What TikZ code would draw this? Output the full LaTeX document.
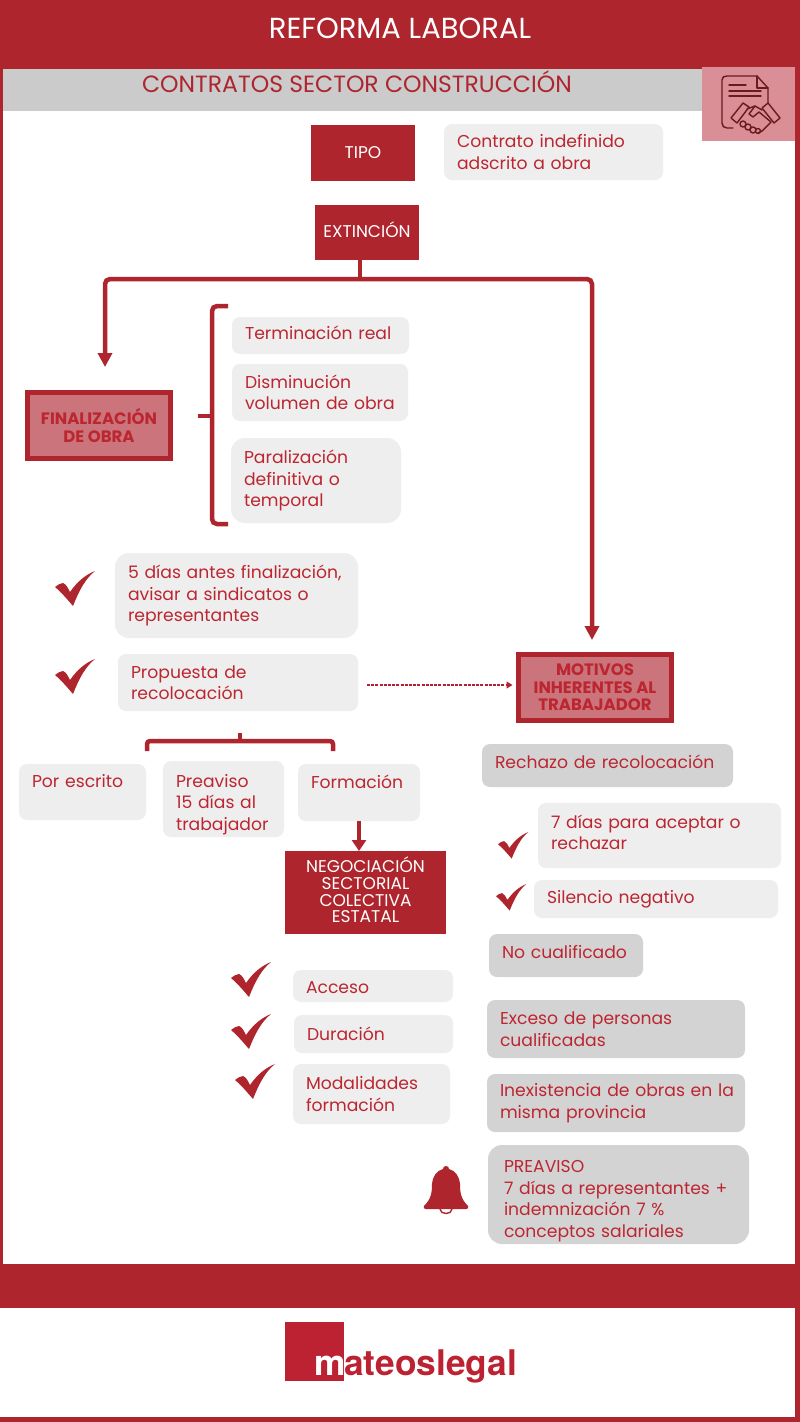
\documentclass[tikz,border=0pt]{standalone}
\usepackage{fontspec}
\setmainfont{Poppins}
\newfontfamily\logofont{TeX Gyre Heros}
\usetikzlibrary{arrows.meta,calc}
\definecolor{band}{HTML}{AE252E}
\definecolor{ink}{HTML}{BC2630}
\definecolor{lite}{HTML}{EEEEEE}
\definecolor{dark}{HTML}{D4D3D4}
\definecolor{rose}{HTML}{CB747B}
\definecolor{iconbg}{HTML}{D98F95}
\definecolor{iconink}{HTML}{6A1A20}
\definecolor{greyband}{HTML}{CBCBCB}
\definecolor{logored}{HTML}{BC2231}
\tikzset{
 boxbase/.style={anchor=north west,outer sep=0pt,inner ysep=0pt},
 litebox/.style={boxbase,fill=lite,rounded corners=8pt,text=ink,align=left,inner xsep=13pt,font=\fontsize{17.2}{21.5}\selectfont},
 darkbox/.style={litebox,fill=dark},
 bigbox/.style={rounded corners=14pt},
 redbox/.style={boxbase,fill=band,text=white,align=center,inner xsep=2pt,font=\fontsize{17}{16.7}\selectfont},
 rosebox/.style={boxbase,fill=rose,draw=band,line width=5pt,text=ink,align=center,inner xsep=2pt,font=\bfseries\fontsize{16.5}{17.5}\selectfont},
 conn/.style={draw=band,line width=4.5pt,rounded corners=5pt},
 arrowconn/.style={conn,-{Triangle[width=14pt,length=14pt]}},
 dashconn/.style={draw=band,line width=1.1pt,dash pattern=on 3pt off 1.2pt,-{Triangle[width=7pt,length=6pt]}},
 bandtext/.style={text=white,font=\fontsize{29}{34}\selectfont,inner sep=0pt},
 titletext/.style={text=band,font=\fontsize{23.5}{28}\selectfont,inner sep=0pt},
 iconline/.style={draw=iconink,line width=1.4pt,line cap=round,line join=round},
 checkmark/.pic={\fill[band] (0,16) .. controls (3,14) and (5,12) .. (8,12) .. controls (11,13) and (13,17) .. (15,21) .. controls (22,11) and (30,4) .. (40,0) .. controls (30,8) and (24,20) .. (18,35) .. controls (12,28) and (6,21) .. (0,16) -- cycle;}
}
\newcommand{\tbox}[7]{%
 \pgfmathsetmacro{\bw}{#4-#2}\pgfmathsetmacro{\bh}{#5-#3}%
 \node[#6,minimum width=\bw pt,minimum height=\bh pt,text width=\bw pt-26pt] (#1) at (#2,#3) {#7};}
\newcommand{\cbox}[7]{%
 \pgfmathsetmacro{\bw}{#4-#2}\pgfmathsetmacro{\bh}{#5-#3}%
 \node[#6,minimum width=\bw pt,minimum height=\bh pt] (#1) at (#2,#3) {#7};}
\begin{document}
\begin{tikzpicture}[x=1pt,y=-1pt]
\useasboundingbox (0,0) rectangle (800,1422);
% frame
\fill[band] (0,0) rectangle (800,1422);
\fill[white] (3,69) rectangle (795,1264);
\fill[white] (0,1308) rectangle (795,1417);
\fill[greyband] (3,69) rectangle (702,111);
\fill[band] (0,1264) rectangle (800,1308);
\node[bandtext] (head) at (400,28) {REFORMA LABORAL};
\node[titletext] (title) at (357,82) {CONTRATOS SECTOR CONSTRUCCIÓN};
% icon
\fill[iconbg] (702,67) rectangle (795,141);
\draw[iconline] (733,128) -- (727,128) .. controls (724,128) and (722,126) .. (722,123) -- (722,80) .. controls (722,77) and (724,76) .. (727,76) -- (757,76) -- (768,88) -- (768,103);
\draw[iconline] (757,76) -- (757,88) -- (768,88);
\draw[iconline] (729,85) -- (746,85) (729,91) -- (761,91) (729,96) -- (761,96);
\draw[iconline] (731,118) -- (743,103) -- (749,107) -- (737,123) -- cycle;
\draw[iconline] (768,103) -- (780,118) -- (774,123) -- (762,108) -- cycle;
\draw[iconline] (747,109) -- (755,106) -- (762,110);
\draw[iconline] (755,106) -- (749,114) -- (753,117) -- (759,112) -- (771,122) -- (762,131) -- (758,133);
\draw[iconline] (743,124) circle[radius=3pt] (748,127) circle[radius=3pt] (753,130) circle[radius=3pt] (758,131) circle[radius=2.5pt];
% nodes
\cbox{tipo}{311}{125}{415}{181}{redbox}{TIPO}
\tbox{contrato}{444}{124}{663}{180}{litebox}{Contrato indefinido\\adscrito a obra}
\cbox{ext}{315}{205}{419}{260}{redbox}{EXTINCIÓN\rule[-6pt]{0pt}{1pt}}
\cbox{fin}{27.5}{392.5}{170.5}{458.5}{rosebox}{FINALIZACIÓN\\DE OBRA}
\tbox{term}{232}{317}{409}{354}{litebox}{Terminación real\rule[-5pt]{0pt}{1pt}}
\tbox{dism}{232}{364}{408}{421}{litebox}{Disminución\\\mbox{volumen de obra}}
\tbox{para}{231}{438}{401}{523}{litebox,bigbox}{Paralización\\definitiva o\\temporal}
\tbox{cinco}{115}{553}{358}{638}{litebox,bigbox}{5 días antes finalización,\\avisar a sindicatos o\\representantes}
\tbox{prop}{118}{654}{358}{711}{litebox}{Propuesta de\\recolocación}
\cbox{mot}{518.5}{654.5}{671.5}{720.5}{rosebox}{MOTIVOS\\INHERENTES AL\\TRABAJADOR}
\tbox{esc}{19}{764}{146}{820}{litebox}{Por escrito\\\mbox{}}
\tbox{prea}{163}{761}{284}{837}{litebox}{\rule{0pt}{24pt}Preaviso\\15 días al\\trabajador}
\tbox{form}{298}{764}{420}{821}{litebox}{Formación\\\mbox{}}
\cbox{nego}{285}{851}{446}{934}{redbox}{NEGOCIACIÓN\\SECTORIAL\\COLECTIVA\\ESTATAL\rule[-5pt]{0pt}{1pt}}
\tbox{rech}{482}{744}{733}{787}{darkbox}{Rechazo de recolocación\rule[-7pt]{0pt}{1pt}}
\tbox{siete}{538}{803}{781}{868}{litebox}{7 días para aceptar o\\rechazar\rule[-6pt]{0pt}{1pt}}
\tbox{sil}{534}{880}{778}{918}{litebox}{Silencio negativo}
\tbox{nocu}{489}{934}{643}{977}{darkbox}{No cualificado\rule[-7pt]{0pt}{1pt}}
\tbox{exce}{487}{1000}{745}{1058}{darkbox}{Exceso de personas\\cualificadas}
\tbox{inex}{487}{1074}{745}{1132}{darkbox}{\mbox{Inexistencia de obras en la}\\misma provincia}
\cbox{prev}{488}{1145}{749}{1244}{darkbox,bigbox,inner xsep=16pt,text width=229pt}{\rule{0pt}{25pt}PREAVISO\\7 días a representantes +\\indemnización 7 \%\\conceptos salariales}
\tbox{acc}{293}{970}{453}{1002}{litebox}{\rule{0pt}{15pt}Acceso}
\tbox{dur}{294}{1015}{453}{1053}{litebox}{Duración}
\tbox{moda}{293}{1064}{450}{1124}{litebox}{Modalidades\\formación}
% connectors
\coordinate (jn) at (360,279);
\coordinate (lend) at (105,367);
\coordinate (rend) at (592,640);
\draw[conn,rounded corners=0pt] (ext.south -| jn) -- (jn);
\draw[arrowconn] (jn) -| (lend);
\draw[arrowconn] (jn) -| (rend);
% brace
\coordinate (bt) at (228,306);
\coordinate (bb) at (228,524);
\coordinate (bm) at (212,416);
\coordinate (bc) at (198,416);
\draw[conn] (bt) -- (212,306) -- (212,524) -- (bb);
\draw[conn,rounded corners=0pt] (bc) -- (bm);
% dashed
\draw[dashconn,shorten <=9pt,shorten >=6pt] ([yshift=-2.5pt]prop.east) -- ([yshift=2.5pt]mot.west);
% recolocation bracket
\coordinate (rs) at (240,733);
\coordinate (rj) at (240,741);
\coordinate (rl) at (147,751);
\coordinate (rr) at (333,751);
\draw[conn,rounded corners=0pt] (rs) -- (rj);
\draw[conn,rounded corners=3pt] (rl) |- (rj) -| (rr);
% formation arrow
\draw[draw=band,line width=4.5pt,-{Triangle[width=14pt,length=11pt]}] (form.south -| 359,0) -- (nego.north -| 359,0);
% checks
\pic at (55,571) {checkmark};
\pic at (55,659) {checkmark};
\pic[scale=.76] at (498,832) {checkmark};
\pic[scale=.76] at (496,884) {checkmark};
\pic at (231,962) {checkmark};
\pic at (231,1014) {checkmark};
\pic at (235,1064) {checkmark};
% bell
\fill[band] (446,1166) .. controls (448,1166) and (449,1167) .. (449,1169) .. controls (456,1171) and (459,1176) .. (460,1184) .. controls (460,1193) and (461,1199) .. (468,1206) .. controls (469,1208) and (468,1209) .. (466,1209) -- (426,1209) .. controls (424,1209) and (423,1208) .. (424,1206) .. controls (431,1199) and (432,1193) .. (432,1184) .. controls (433,1176) and (436,1171) .. (443,1169) .. controls (443,1167) and (444,1166) .. (446,1166) -- cycle;
\draw[band,line width=1.4pt] (440,1209) .. controls (440,1215) and (452,1215) .. (452,1209);
% logo
\fill[logored] (285,1322) rectangle (344,1381);
\node[anchor=base west,inner sep=0pt,text=white,font=\logofont\bfseries\fontsize{35.3}{40}\selectfont] (logom) at (314,1375) {m};
\node[anchor=base west,inner sep=0pt,text=logored,font=\logofont\bfseries\fontsize{35.3}{40}\selectfont] (logot) at (344,1375) {ateoslegal};
\end{tikzpicture}
\end{document}
